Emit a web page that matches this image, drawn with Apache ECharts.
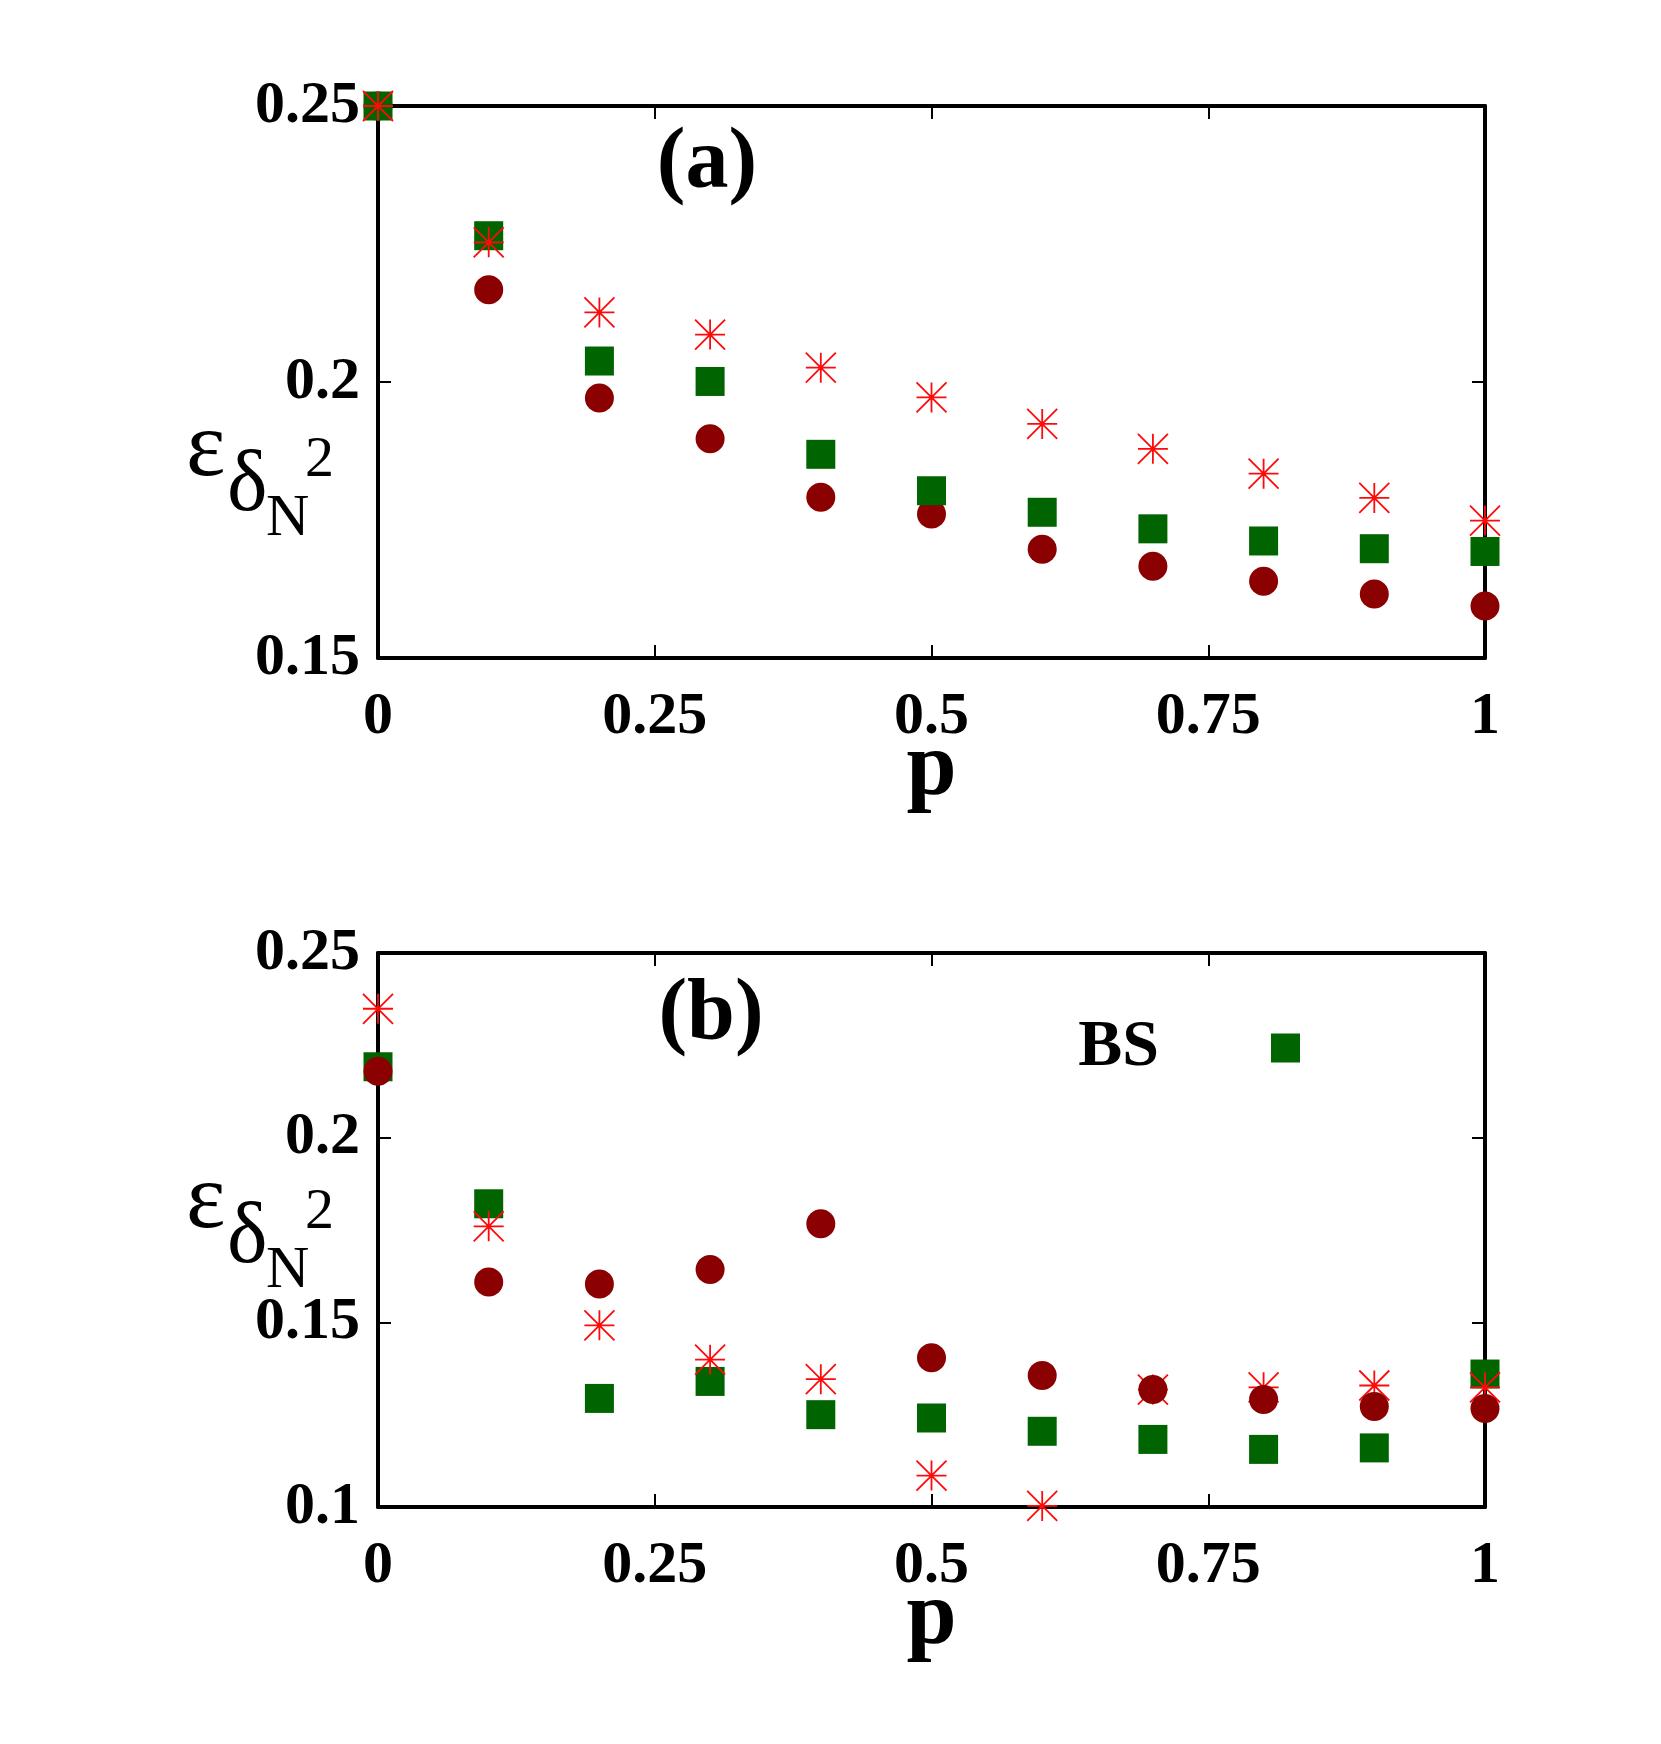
<!DOCTYPE html>
<html>
<head>
<meta charset="utf-8">
<title>epsilon vs p</title>
<script src="https://cdn.jsdelivr.net/npm/echarts@6/dist/echarts.min.js"></script>
<style>
  html, body { margin: 0; padding: 0; background: #fff; }
  #main { width: 1661px; height: 1744px; }
</style>
</head>
<body>
<div id="main"></div>
<script>
// x values, same for both panels
const pValues = [0, 0.1, 0.2, 0.3, 0.4, 0.5, 0.6, 0.7, 0.8, 0.9, 1.0];

// panel (a)
const starA   = [0.2500, 0.2253, 0.2126, 0.2086, 0.2026, 0.1972, 0.1924, 0.1879, 0.1834, 0.1790, 0.1749];
const squareA = [0.2500, 0.2265, 0.2038, 0.2001, 0.1869, 0.1803, 0.1764, 0.1734, 0.1712, 0.1698, 0.1693];
const circleA = [0.2500, 0.2167, 0.1971, 0.1897, 0.1791, 0.1761, 0.1697, 0.1666, 0.1639, 0.1616, 0.1594];

// panel (b)
const starB   = [0.2349, 0.1760, 0.1492, 0.1399, 0.1346, 0.1085, 0.1003, 0.1318, 0.1324, 0.1329, 0.1324];
const squareB = [0.2192, 0.1821, 0.1294, 0.1340, 0.1250, 0.1241, 0.1205, 0.1183, 0.1156, 0.1160, 0.1360];
const circleB = [0.2180, 0.1609, 0.1604, 0.1643, 0.1767, 0.1404, 0.1356, 0.1318, 0.1291, 0.1272, 0.1267];

// ticks
const xTicks  = [0, 0.25, 0.5, 0.75, 1];
const yTicksA = [0.15, 0.2, 0.25];
const yTicksB = [0.1, 0.15, 0.2, 0.25];

const legendName = 'BS';

const SERIF = '"Liberation Serif", "Times New Roman", serif';
const STAR = 'path://M0,0L30,30M0,30L30,0M15,0L15,30M0,15L30,15';

function pairs(ys) {
  return pValues.map((p, i) => [p, ys[i]]);
}

// trim float noise like 0.24999999 -> 0.25
function fmt(v) {
  return String(parseFloat(v.toFixed(4)));
}

function axisBase(ticks) {
  return {
    min: ticks[0],
    max: ticks[ticks.length - 1],
    interval: Math.round((ticks[1] - ticks[0]) * 10000) / 10000,
    splitLine: { show: false },
    axisLine: { show: true, onZero: false, lineStyle: { color: '#000', width: 4 } },
    axisTick: { show: true, inside: true, length: 13, lineStyle: { color: '#000', width: 2 } }
  };
}

function xAxes(gridIndex) {
  const bottom = Object.assign(axisBase(xTicks), {
    type: 'value', gridIndex: gridIndex, position: 'bottom',
    name: 'p', nameLocation: 'middle', nameGap: 68, nameMoveOverlap: false,
    nameTextStyle: { fontFamily: SERIF, fontWeight: 'bold', fontSize: 90, color: '#000' },
    axisLabel: { fontFamily: SERIF, fontWeight: 'bold', fontSize: 60, color: '#000', margin: 29, formatter: fmt }
  });
  const top = Object.assign(axisBase(xTicks), {
    type: 'value', gridIndex: gridIndex, position: 'top',
    axisLabel: { show: false }
  });
  return [bottom, top];
}

function yAxes(gridIndex, ticks) {
  const left = Object.assign(axisBase(ticks), {
    type: 'value', gridIndex: gridIndex, position: 'left',
    axisLabel: { fontFamily: SERIF, fontWeight: 'bold', fontSize: 60, color: '#000', margin: 18, formatter: fmt }
  });
  const right = Object.assign(axisBase(ticks), {
    type: 'value', gridIndex: gridIndex, position: 'right',
    axisLabel: { show: false }
  });
  return [left, right];
}

function starSeries(ys, axis, z) {
  return {
    name: 'star', type: 'scatter', xAxisIndex: axis, yAxisIndex: axis,
    symbol: STAR, symbolSize: 30, clip: false, z: z,
    itemStyle: { color: 'none', borderColor: '#ff0a0a', borderWidth: 1.8, opacity: 1 },
    data: pairs(ys)
  };
}
function squareSeries(ys, axis, z) {
  return {
    name: legendName, type: 'scatter', xAxisIndex: axis, yAxisIndex: axis,
    symbol: 'rect', symbolSize: 29, clip: false, z: z,
    itemStyle: { color: '#006400', opacity: 1 },
    data: pairs(ys)
  };
}
function circleSeries(ys, axis, z) {
  return {
    name: 'circle', type: 'scatter', xAxisIndex: axis, yAxisIndex: axis,
    symbol: 'circle', symbolSize: 29, clip: false, z: z,
    itemStyle: { color: '#8b0000', opacity: 1 },
    data: pairs(ys)
  };
}

// y axis title: epsilon with sub delta, sub-sub N, superscript 2
function yTitle(dy) {
  const t = (text, x, y, size) => ({
    type: 'text', x: x, y: y + dy,
    style: { text: text, font: size + 'px ' + SERIF, fill: '#000',
             textAlign: 'left', textVerticalAlign: 'middle' }
  });
  return [
    t('ε', 186, 450, 94),
    t('δ', 227, 487, 86),
    t('N', 266, 519, 60),
    t('2', 305, 461, 58)
  ];
}

function panelLabel(text, x, y) {
  return {
    type: 'text', x: x, y: y,
    style: { text: text, font: 'bold 86px ' + SERIF, fill: '#000',
             textAlign: 'center', textVerticalAlign: 'middle' }
  };
}

const chart = echarts.init(document.getElementById('main'));

chart.setOption({
  backgroundColor: '#fff',
  animation: false,
  grid: [
    { left: 378, top: 106, width: 1107, height: 552, containLabel: false, outerBoundsMode: 'none' },
    { left: 378, top: 953, width: 1107, height: 554, containLabel: false, outerBoundsMode: 'none' }
  ],
  xAxis: [].concat(xAxes(0), xAxes(1)),
  yAxis: [].concat(yAxes(0, yTicksA), yAxes(1, yTicksB)),
  legend: {
    data: [{ name: legendName, icon: 'rect' }],
    align: 'right',
    right: 361,
    top: 1015,
    padding: 0,
    itemWidth: 29,
    itemHeight: 29,
    selectedMode: false,
    textStyle: { fontFamily: SERIF, fontWeight: 'bold', fontSize: 66, color: '#000', padding: [0, 107, 0, 0] }
  },
  graphic: [].concat(
    yTitle(0),
    yTitle(752),
    [panelLabel('(a)', 707, 165), panelLabel('(b)', 711, 1016)]
  ),
  series: [
    // (a): circles under squares under stars
    circleSeries(circleA, 0, 2),
    squareSeries(squareA, 0, 3),
    starSeries(starA, 0, 4),
    // (b): squares under stars under circles
    squareSeries(squareB, 2, 2),
    starSeries(starB, 2, 3),
    circleSeries(circleB, 2, 4)
  ]
});
</script>
</body>
</html>
